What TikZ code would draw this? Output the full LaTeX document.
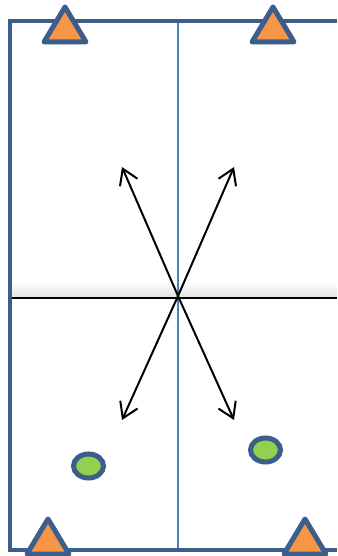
\documentclass[tikz,border=0pt]{standalone}
\usetikzlibrary{arrows.meta}
\definecolor{frameblue}{HTML}{3B5E8C}
\definecolor{midblue}{HTML}{4F81BD}
\definecolor{cone}{HTML}{F79646}
\definecolor{ballgreen}{HTML}{92D050}
\tikzset{
  frame/.style={draw=frameblue, line width=4.5pt},
  conetri/.style={draw=frameblue, fill=cone, line width=5pt, line join=round},
  ball/.style={draw=frameblue, fill=ballgreen, line width=5pt},
  runarrow/.style={draw=black, line width=2pt, -{Straight Barb[length=15pt,width=19pt]}}
}
\begin{document}
\begin{tikzpicture}[x=1pt,y=-1pt]
\useasboundingbox (0,0) rectangle (337,556);
% shading above halfway line
\shade[top color=white, bottom color=black!11] (10,281) rectangle (337,297);
% centre line
\draw[midblue, line width=1.6pt] (178,21) -- (178,550);
% halfway line
\draw[black, line width=2pt] (10,298) -- (337,298);
% frame
\draw[frame] (337,21) -- (10,21) -- (10,550) -- (337,550);
% arrows
\coordinate (c) at (178,296);
\coordinate (ul) at (122,167);
\coordinate (ur) at (234,167);
\coordinate (dl) at (122,420);
\coordinate (dr) at (234,420);
\draw[runarrow] (c) -- (ul);
\draw[runarrow] (c) -- (ur);
\draw[runarrow] (c) -- (dl);
\draw[runarrow] (c) -- (dr);
% cones
\draw[conetri] (65,7) -- (86,42) -- (44,42) -- cycle;
\draw[conetri] (273,7) -- (294,42) -- (252,42) -- cycle;
\draw[conetri] (48,519) -- (69,554) -- (27,554) -- cycle;
\draw[conetri] (305,519) -- (326,554) -- (284,554) -- cycle;
% balls
\draw[ball] (88.5,466) ellipse (15pt and 12pt);
\draw[ball] (265.5,450) ellipse (15pt and 12pt);
\end{tikzpicture}
\end{document}
